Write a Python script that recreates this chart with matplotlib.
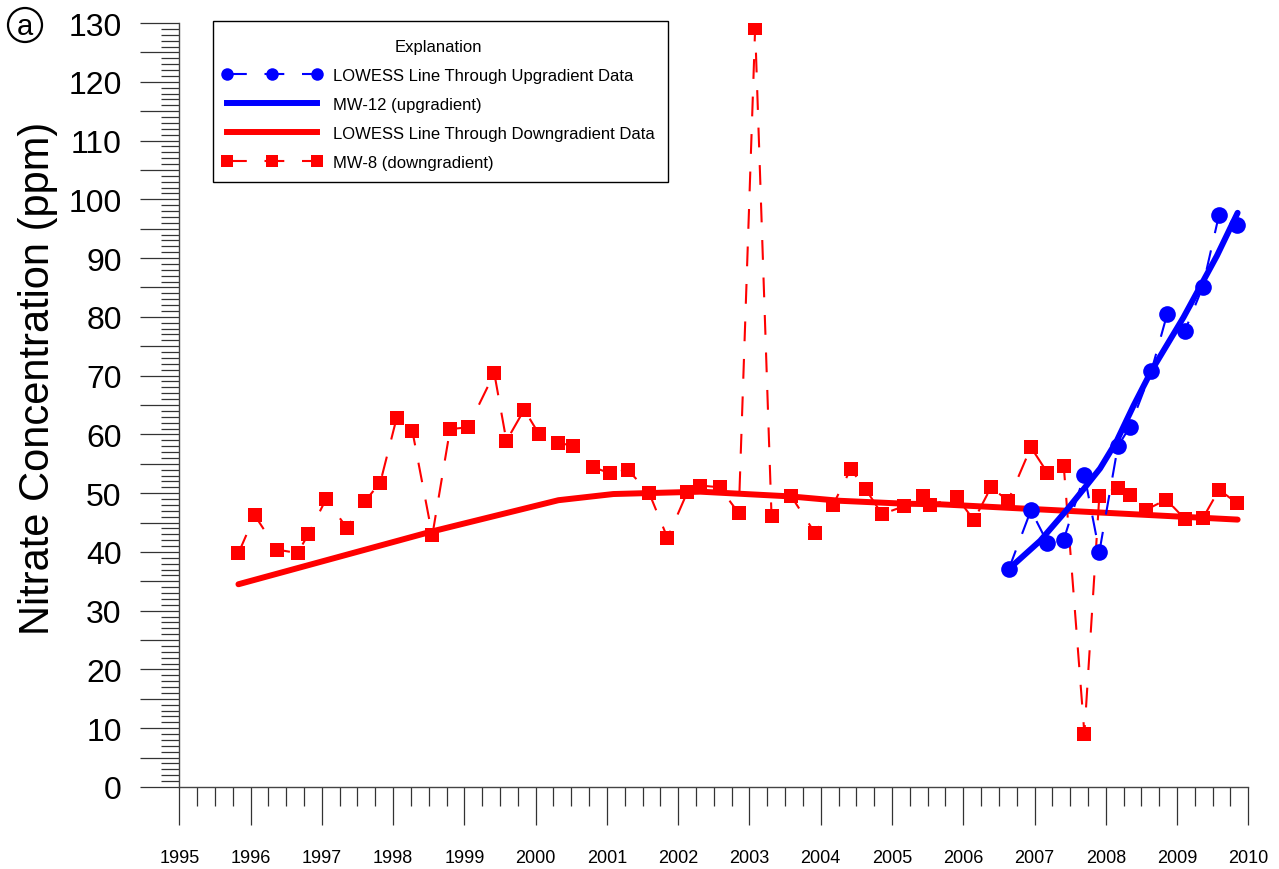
import matplotlib
matplotlib.use("Agg")
import matplotlib.pyplot as plt
from matplotlib.ticker import MultipleLocator, FuncFormatter
from matplotlib.lines import Line2D
from matplotlib.patches import Ellipse, Rectangle

plt.rcParams['font.family'] = ['Liberation Sans', 'DejaVu Sans']

# ---- data (decimal years, ppm) ----
mw8_x = [1995.83, 1996.06, 1996.37, 1996.66, 1996.81, 1997.06, 1997.35, 1997.61, 1997.82,
         1998.05, 1998.27, 1998.55, 1998.80, 1999.05, 1999.42, 1999.59, 1999.84, 2000.05,
         2000.32, 2000.53, 2000.81, 2001.04, 2001.29, 2001.59, 2001.85, 2002.13, 2002.31,
         2002.58, 2002.85, 2003.08, 2003.31, 2003.58, 2003.92, 2004.17, 2004.42, 2004.63,
         2004.86, 2005.17, 2005.43, 2005.54, 2005.91, 2006.15, 2006.39, 2006.63, 2006.95,
         2007.18, 2007.41, 2007.70, 2007.91, 2008.17, 2008.34, 2008.57, 2008.85, 2009.11,
         2009.36, 2009.59, 2009.84]
mw8_y = [39.8, 46.2, 40.4, 39.8, 43.0, 49.0, 44.1, 48.7, 51.8,
         62.8, 60.6, 42.8, 60.9, 61.2, 70.4, 58.9, 64.2, 60.0,
         58.6, 58.0, 54.4, 53.4, 54.0, 50.1, 42.4, 50.2, 51.3,
         51.0, 46.6, 129.1, 46.1, 49.6, 43.2, 47.9, 54.1, 50.7,
         46.4, 47.8, 49.5, 48.0, 49.3, 45.4, 51.0, 48.7, 57.8,
         53.5, 54.7, 9.1, 49.6, 50.9, 49.7, 47.2, 48.9, 45.6,
         45.7, 50.6, 48.3]

mw12_x = [2006.64, 2006.95, 2007.18, 2007.41, 2007.70, 2007.91, 2008.17, 2008.34,
          2008.64, 2008.86, 2009.11, 2009.36, 2009.59, 2009.84]
mw12_y = [37.1, 47.1, 41.6, 42.1, 53.1, 40.0, 58.0, 61.3,
          70.8, 80.4, 77.6, 85.1, 97.4, 95.6]

low_down_x = [1995.83, 1998.55, 2000.32, 2001.09, 2002.31, 2003.57, 2004.27, 2005.19,
              2005.68, 2007.45, 2009.85]
low_down_y = [34.5, 43.5, 48.8, 49.85, 50.25, 49.45, 48.7, 48.2,
              48.1, 47.0, 45.5]

low_up_x = [2006.64, 2007.08, 2007.45, 2007.73, 2007.92, 2008.15, 2008.39, 2008.64,
            2009.09, 2009.56, 2009.85]
low_up_y = [37.1, 41.9, 47.1, 51.3, 54.2, 58.8, 64.9, 70.8,
            79.9, 90.4, 97.7]

legend_labels = ["LOWESS Line Through Upgradient Data", "MW-12 (upgradient)",
                 "LOWESS Line Through Downgradient Data", "MW-8 (downgradient)"]

RED = '#ff0000'
BLUE = '#0000ff'

W, H = 1279, 870
fig = plt.figure(figsize=(W / 100, H / 100), dpi=100)
x0, x1 = 179.3, 1248.3
y0, y1 = 788.0, 24.0
ax = fig.add_axes([x0 / W, (H - y0) / H, (x1 - x0) / W, (y0 - y1) / H])

dash = (0, (9.5, 8.5))
lw_d = 1.5
lw_s = 4.3

ax.plot(low_down_x, low_down_y, color=RED, lw=lw_s, solid_capstyle='round', zorder=3)
ax.plot(mw8_x, mw8_y, color=RED, lw=lw_d, ls=dash, marker='s', ms=10.5,
        mec=RED, mfc=RED, mew=0, zorder=4)
ax.plot(low_up_x, low_up_y, color=BLUE, lw=lw_s, solid_capstyle='round', zorder=5)
ax.plot(mw12_x, mw12_y, color=BLUE, lw=lw_d, ls=dash, marker='o', ms=12,
        mec=BLUE, mfc=BLUE, mew=0, zorder=6)

ax.set_xlim(1995, 2010)
ax.set_ylim(0, 130)

for s in ['top', 'right']:
    ax.spines[s].set_visible(False)
for s in ['left', 'bottom']:
    ax.spines[s].set_color('#444444')
    ax.spines[s].set_linewidth(1.0)

ax.xaxis.set_major_locator(MultipleLocator(1))
ax.xaxis.set_minor_locator(MultipleLocator(0.25))
ax.xaxis.set_major_formatter(FuncFormatter(lambda v, p: f"{int(round(v))}"))
ax.yaxis.set_major_locator(MultipleLocator(5))
ax.yaxis.set_minor_locator(MultipleLocator(1))
ax.yaxis.set_major_formatter(FuncFormatter(lambda v, p: f"{int(round(v))}" if int(round(v)) % 10 == 0 else ""))

ax.tick_params(axis='x', which='major', direction='out', length=27.5, width=0.9,
               color='#333333', pad=17, labelsize=13)
ax.tick_params(axis='x', which='minor', direction='out', length=13.8, width=0.9, color='#333333')
ax.tick_params(axis='y', which='major', direction='out', length=28, width=0.9,
               color='#333333', pad=13.5, labelsize=23)
ax.tick_params(axis='y', which='minor', direction='out', length=13.3, width=0.9, color='#333333')

fig.text(38 / W, 1 - 378 / H, "Nitrate Concentration (ppm)", rotation=90,
         ha='center', va='center', fontsize=30)

# circled panel letter
fig.text(25 / W, 1 - 27 / H, "a", ha='center', va='center', fontsize=21)
fig.patches.append(Ellipse((25 / W, 1 - 26 / H), 34 / W, 34 / H, transform=fig.transFigure,
                           fill=False, ec='black', lw=1.6))

handles = [
    Line2D([], [], color=BLUE, lw=lw_d, ls=dash, marker='o', ms=9, mew=0),
    Line2D([], [], color=BLUE, lw=lw_s),
    Line2D([], [], color=RED, lw=lw_s),
    Line2D([], [], color=RED, lw=lw_d, ls=dash, marker='s', ms=8, mew=0),
]
leg = ax.legend(handles, legend_labels, title="Explanation", loc='upper left',
                bbox_to_anchor=(217 / W, 1 - 35 / H), bbox_transform=fig.transFigure,
                frameon=False, fontsize=12, title_fontsize=12,
                handlelength=6.0, handletextpad=0.65, labelspacing=0.84,
                borderpad=0.3, borderaxespad=0, numpoints=3)

# legend frame
fig.patches.append(Rectangle((213 / W, 1 - 183 / H), 455 / W, 161 / H,
                             transform=fig.transFigure, fill=False, ec='black', lw=1.0))

fig.savefig("out.png", dpi=100)
